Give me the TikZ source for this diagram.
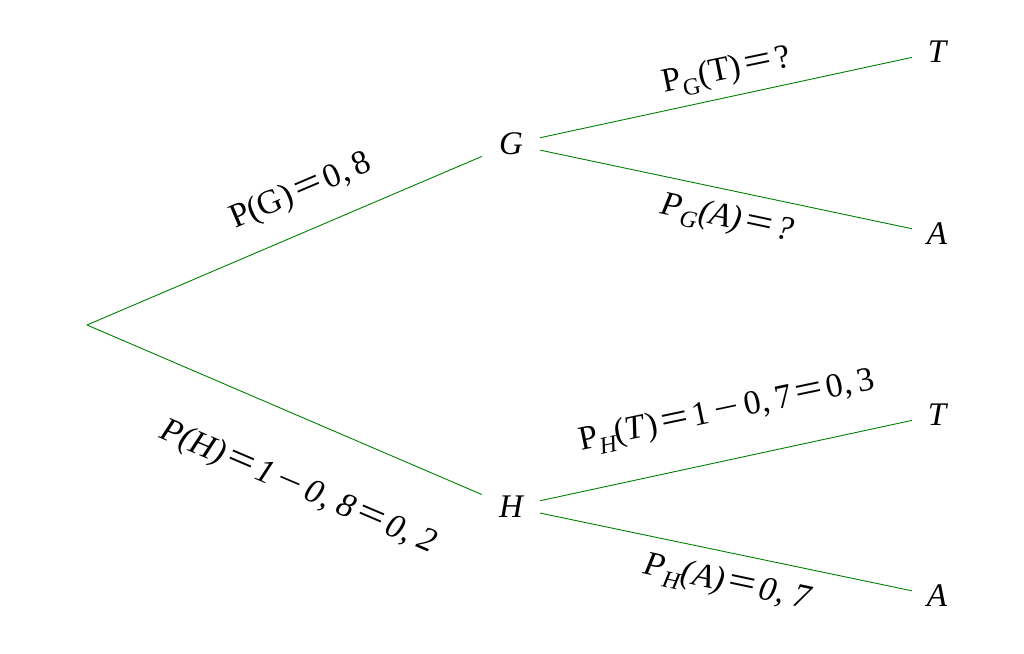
\documentclass[tikz,border=0pt]{standalone}
\usepackage{graphicx}
\usepackage{fontspec}
\setmainfont{Liberation Serif}
\newcommand\lsub[1]{\raisebox{-0.25em}{\fontsize{24}{24}\selectfont #1}}
\newcommand\eq{\kern4pt\scalebox{1.45}[1.15]{\upshape =}\kern4pt}
\newcommand\mn{\,\scalebox{1.3}[1]{\upshape −}\,}
\begin{document}
\begin{tikzpicture}[x=1pt,y=-1pt,
  br/.style={draw=green!50!black, line width=0.9pt},
  vx/.style={font=\fontsize{33}{33}\selectfont\itshape, minimum width=58pt, minimum height=30pt, inner sep=0pt},
  lf/.style={font=\fontsize{33}{33}\selectfont\itshape, minimum width=50pt, minimum height=30pt, inner sep=0pt},
  lab/.style={font=\fontsize{34}{34}\selectfont, inner sep=0pt}]
\useasboundingbox (0,0) rectangle (1024,653);
\coordinate (r) at (87,325);
\node[vx] (G) at (511,144) {G};
\node[vx] (H) at (511,507) {H};
\node[lf] (T1) at (937,52) {T};
\node[lf] (A1) at (937,234) {A};
\node[lf] (T2) at (937,415) {T};
\node[lf] (A2) at (937,596) {A};
\draw[br] (r) -- (G);
\draw[br] (r) -- (H);
\draw[br] (G) -- (T1);
\draw[br] (G) -- (A1);
\draw[br] (H) -- (T2);
\draw[br] (H) -- (A2);
\node[lab, rotate=23] (lG) at (301,192) {P(G)\eq 0,\,8};
\node[lab, rotate=-23] (lH) at (298,488) {\itshape P(H)\eq 1\mn 0,\;8\eq 0,\;2};
\node[lab, rotate=11.7] (lGT) at (727,72) {P\lsub{G}(T)\eq ?};
\node[lab, rotate=-12] (lGA) at (727,220) {\itshape P\lsub{G}(A)\eq ?};
\node[lab, rotate=11.8] (lHT) at (727,412) {P\lsub{\itshape H}(\textit{T})\eq 1\mn 0,\,7\eq 0,\,3};
\node[lab, rotate=-12] (lHA) at (727,584) {\itshape P\lsub{H}(A)\eq 0,\;7};
\end{tikzpicture}
\end{document}
